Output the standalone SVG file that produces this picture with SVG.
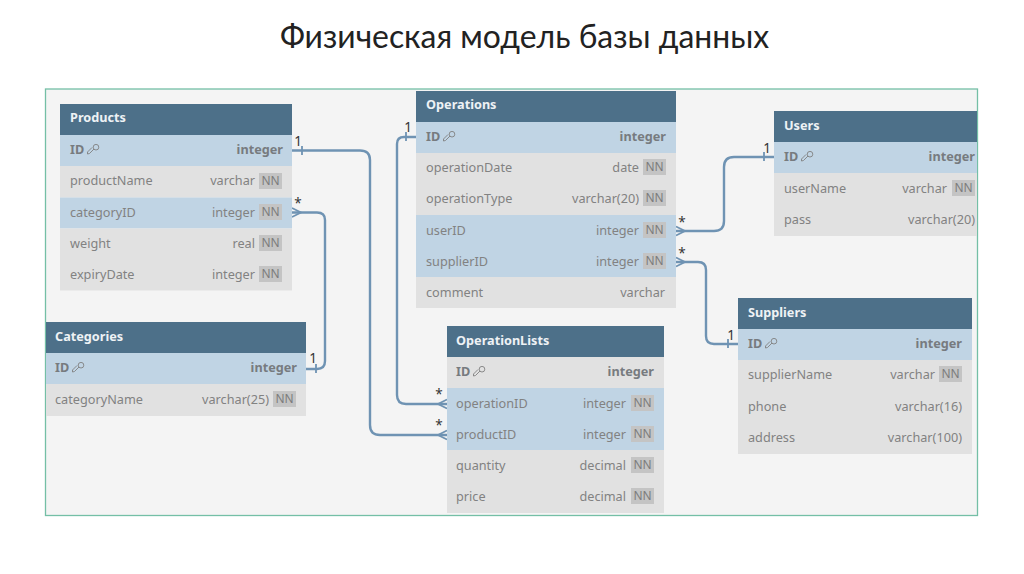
<svg xmlns="http://www.w3.org/2000/svg" width="1024" height="574" viewBox="0 0 1024 574">
<style>
text{font-family:"Noto Sans","Open Sans","DejaVu Sans",sans-serif;font-size:12.700px;fill:#828282}
.title{font-family:Lato,"Open Sans",sans-serif;font-size:31.900px;fill:#222;text-anchor:middle}
.h{fill:#4d7089}
.ht{fill:#eef2f5;font-weight:700}
.r{fill:#e1e1e1}
.k{fill:#c0d4e4}
.id{font-weight:700;fill:#777b7f}
.t{text-anchor:end}
.b{fill:#c4c4c4}
.nn{text-anchor:middle;font-size:12px;fill:#7c7c7c}
.c{fill:none;stroke:#6f93b3;stroke-width:2.400}
.m{fill:none;stroke:#6f93b3;stroke-width:1.800}
.l{fill:#333;font-size:13.500px;text-anchor:middle}
.key{fill:none;stroke:#808080;stroke-width:.900}
</style>
<defs>
<g id="key"><circle cx="5" cy="-1.800" r="2.800" class="key"/><path d="M3 0L-1.500 4.500L-3.500 5L-3.500 3L1 -1.500" class="key"/></g>
<g id="nnb"><rect x="-23" y="-8" width="23" height="16" class="b"/><text x="-11.500" y="4.300" class="nn">NN</text></g>
</defs>
<rect width="1024" height="574" fill="#fff"/>
<text x="524.500" y="47.500" class="title">Физическая модель базы данных</text>
<rect id="frame" x="45.500" y="89" width="932" height="426.500" fill="#f4f4f4" stroke="#74bfa6" stroke-width="1.300"/>

<g id="connectors">
<path class="c" d="M292 150.500H360Q370 150.500 370 160V425Q370 435 380 435H447"/>
<path class="c" d="M292 212.500H317Q325 212.500 325 220V361Q325 369 317 369H306"/>
<path class="c" d="M416 137H404Q397 137 397 144V395Q397 404 406 404H447"/>
<path class="c" d="M676 231H714Q724 231 724 221V167Q724 157 734 157H774"/>
<path class="c" d="M676 262H698Q706 262 706 270V336Q706 344 714 344H738"/>
<path class="m" d="M302 146V155M316 364V373M406 132V141M764 152V161M728 339V348"/>
<path class="m" d="M292 208L301 212.500L292 217M676 226.500L685 231L676 235.500M676 257.500L685 262L676 266.500M447 399.500L438 404L447 408.500M447 430.500L438 435L447 439.500"/>
<text class="l" x="298" y="146">1</text>
<text class="l" x="298" y="208">*</text>
<text class="l" x="313" y="363">1</text>
<text class="l" x="408" y="132">1</text>
<text class="l" x="767" y="153">1</text>
<text class="l" x="682" y="227">*</text>
<text class="l" x="682" y="258">*</text>
<text class="l" x="731" y="340">1</text>
<text class="l" x="439" y="399">*</text>
<text class="l" x="439" y="430">*</text>
</g>

<g id="products">
<rect class="h" x="60" y="104" width="232" height="31"/><text class="ht" x="70" y="122">Products</text>
<rect class="k" x="60" y="135" width="232" height="31"/><text class="id" x="70" y="154">ID</text><use href="#key" x="91" y="149"/><text class="id t" x="283" y="154">integer</text>
<rect class="r" x="60" y="166" width="232" height="31.500"/><text x="70" y="185">productName</text><text class="t" x="255" y="185">varchar</text><use href="#nnb" x="282" y="181"/>
<rect class="k" x="60" y="197.500" width="232" height="31"/><text x="70" y="217">categoryID</text><text class="t" x="255" y="217">integer</text><use href="#nnb" x="282" y="212"/>
<rect class="r" x="60" y="228.500" width="232" height="62"/><text x="70" y="248">weight</text><text class="t" x="255" y="248">real</text><use href="#nnb" x="282" y="243"/>
<text x="70" y="279">expiryDate</text><text class="t" x="255" y="279">integer</text><use href="#nnb" x="282" y="274"/>
</g>

<g id="categories">
<rect class="h" x="46" y="322" width="260" height="31"/><text class="ht" x="55" y="341">Categories</text>
<rect class="k" x="46" y="353" width="260" height="31"/><text class="id" x="55" y="372">ID</text><use href="#key" x="76" y="367"/><text class="id t" x="297" y="372">integer</text>
<rect class="r" x="46" y="384" width="260" height="32"/><text x="55" y="404">categoryName</text><text class="t" x="269" y="404">varchar(25)</text><use href="#nnb" x="296" y="399"/>
</g>

<g id="operations">
<rect class="h" x="416" y="91" width="260" height="31"/><text class="ht" x="426" y="109">Operations</text>
<rect class="k" x="416" y="122" width="260" height="31"/><text class="id" x="426" y="141">ID</text><use href="#key" x="447" y="136"/><text class="id t" x="666" y="141">integer</text>
<rect class="r" x="416" y="153" width="260" height="62"/><text x="426" y="172">operationDate</text><text class="t" x="639" y="172">date</text><use href="#nnb" x="666" y="167"/>
<text x="426" y="203">operationType</text><text class="t" x="639" y="203">varchar(20)</text><use href="#nnb" x="666" y="198"/>
<rect class="k" x="416" y="215" width="260" height="62"/><text x="426" y="235">userID</text><text class="t" x="639" y="235">integer</text><use href="#nnb" x="666" y="230"/>
<text x="426" y="266">supplierID</text><text class="t" x="639" y="266">integer</text><use href="#nnb" x="666" y="261"/>
<rect class="r" x="416" y="277" width="260" height="31"/><text x="426" y="297">comment</text><text class="t" x="665" y="297">varchar</text>
</g>

<g id="users">
<rect class="h" x="774" y="111" width="203" height="31"/><text class="ht" x="784" y="130">Users</text>
<rect class="k" x="774" y="142" width="203" height="31"/><text class="id" x="784" y="161">ID</text><use href="#key" x="805" y="156"/><text class="id t" x="975" y="161">integer</text>
<rect class="r" x="774" y="173" width="203" height="63"/><text x="784" y="193">userName</text><text class="t" x="947" y="193">varchar</text><use href="#nnb" x="975" y="188"/>
<text x="784" y="224">pass</text><text class="t" x="975" y="224">varchar(20)</text>
</g>

<g id="suppliers">
<rect class="h" x="738" y="298" width="234" height="31"/><text class="ht" x="748" y="317">Suppliers</text>
<rect class="k" x="738" y="329" width="234" height="31"/><text class="id" x="748" y="348">ID</text><use href="#key" x="769" y="343"/><text class="id t" x="962" y="348">integer</text>
<rect class="r" x="738" y="360" width="234" height="94"/><text x="748" y="379">supplierName</text><text class="t" x="935" y="379">varchar</text><use href="#nnb" x="962" y="374"/>
<text x="748" y="410.500">phone</text><text class="t" x="962" y="410.500">varchar(16)</text>
<text x="748" y="442">address</text><text class="t" x="962" y="442">varchar(100)</text>
</g>

<g id="operationLists">
<rect class="h" x="447" y="326" width="217" height="31"/><text class="ht" x="456" y="345">OperationLists</text>
<rect class="r" x="447" y="357" width="217" height="31"/><text class="id" x="456" y="376">ID</text><use href="#key" x="477" y="371"/><text class="id t" x="654" y="376">integer</text>
<rect class="k" x="447" y="388" width="217" height="62"/><text x="456" y="408">operationID</text><text class="t" x="626" y="408">integer</text><use href="#nnb" x="654" y="403"/>
<text x="456" y="439">productID</text><text class="t" x="626" y="439">integer</text><use href="#nnb" x="654" y="434"/>
<rect class="r" x="447" y="450" width="217" height="63"/><text x="456" y="470">quantity</text><text class="t" x="626" y="470">decimal</text><use href="#nnb" x="654" y="465"/>
<text x="456" y="501">price</text><text class="t" x="626" y="501">decimal</text><use href="#nnb" x="654" y="496"/>
</g>
</svg>
